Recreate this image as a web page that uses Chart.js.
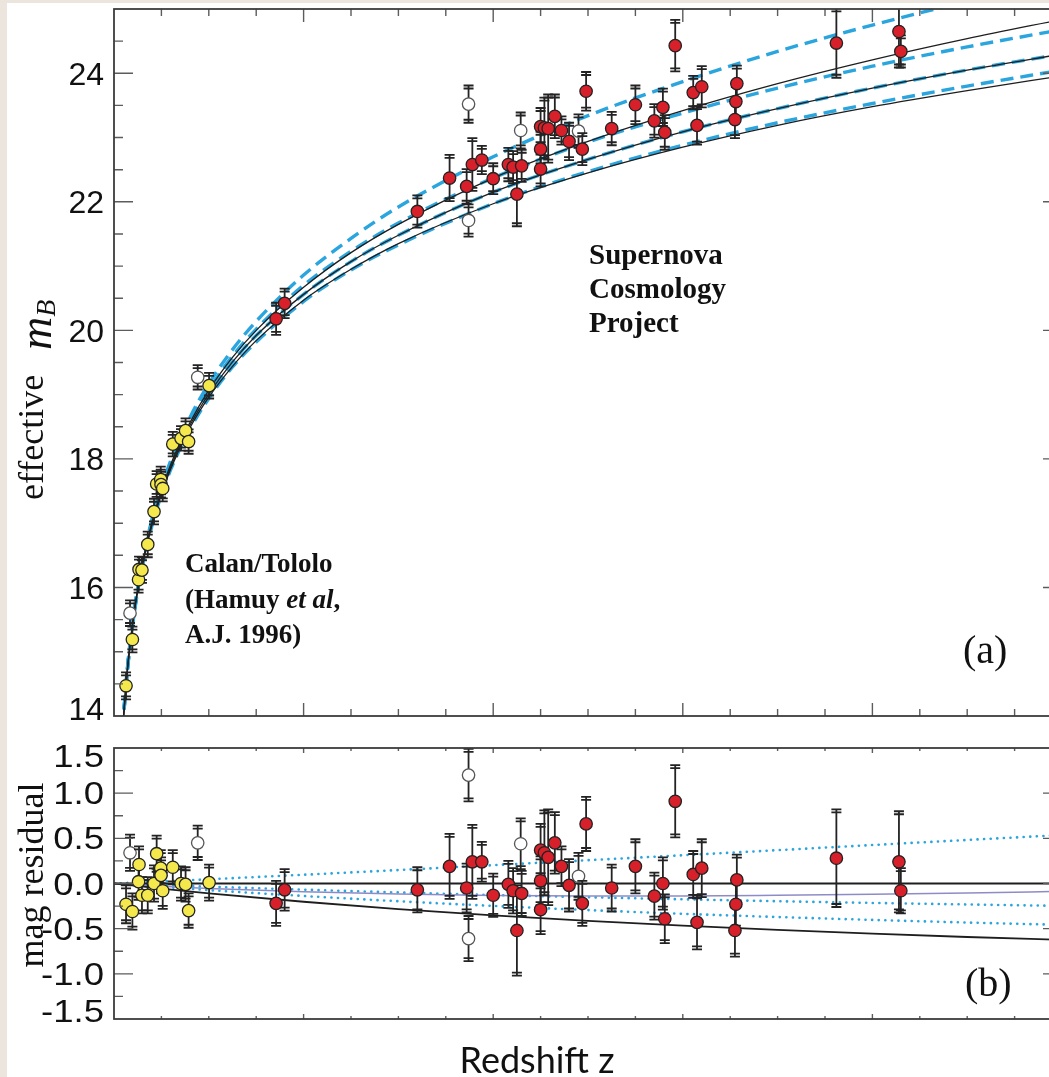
<!DOCTYPE html>
<html>
<head>
<meta charset="utf-8">
<script src="https://cdn.jsdelivr.net/npm/chart.js@4.4.1/dist/chart.umd.min.js"></script>
<style>
  html, body { margin: 0; padding: 0; }
  body { width: 1049px; height: 1077px; overflow: hidden; background: #fff; position: relative; }
  .strip { position: absolute; background: #ebe5de; }
  canvas { position: absolute; left: 0; }
  #magChart { top: 0; }
  #residChart { top: 720px; }
</style>
</head>
<body>
<div class="strip" style="left:0;top:0;width:7px;height:1077px"></div>
<div class="strip" style="left:0;top:0;width:1049px;height:3px"></div>
<canvas id="magChart" width="1080" height="740"></canvas>
<canvas id="residChart" width="1080" height="357"></canvas>
<script>
// Supernova Cosmology Project (filled red)
const scpZ = [0.171, 0.180, 0.320, 0.354, 0.372, 0.378, 0.388, 0.400, 0.416, 0.421, 0.425, 0.430,
  0.450, 0.450, 0.450, 0.454, 0.458, 0.465, 0.472, 0.480, 0.494, 0.498, 0.525, 0.550, 0.570, 0.579,
  0.581, 0.592, 0.611, 0.620, 0.615, 0.657, 0.656, 0.655, 0.762, 0.828, 0.830];
const scpMag = [20.18, 20.42, 21.85, 22.37, 22.24, 22.58, 22.65, 22.36, 22.58, 22.54, 22.12, 22.56,
  23.17, 22.82, 22.51, 23.15, 23.14, 23.33, 23.11, 22.94, 22.82, 23.72, 23.14, 23.51, 23.26, 23.47,
  23.08, 24.43, 23.70, 23.79, 23.19, 23.84, 23.56, 23.28, 24.47, 24.65, 24.34];
const scpResid = [-0.22, -0.07, -0.07, 0.19, -0.05, 0.24, 0.24, -0.13, -0.01, -0.08, -0.52, -0.11,
  0.37, 0.03, -0.29, 0.34, 0.29, 0.45, 0.19, -0.02, -0.22, 0.66, -0.05, 0.19, -0.14, 0.00,
  -0.39, 0.91, 0.10, 0.17, -0.43, 0.04, -0.23, -0.52, 0.28, 0.24, -0.08];
const scpErr = [0.25, 0.23, 0.25, 0.36, 0.27, 0.41, 0.22, 0.24, 0.26, 0.25, 0.50, 0.25,
  0.29, 0.27, 0.27, 0.47, 0.53, 0.34, 0.22, 0.29, 0.25, 0.30, 0.26, 0.30, 0.26, 0.29,
  0.27, 0.40, 0.26, 0.32, 0.30, 0.28, 0.27, 0.29, 0.54, 0.56, 0.25];

// Calan/Tololo (yellow)
const ctZ = [0.0127, 0.0194, 0.0259, 0.0264, 0.0295, 0.0356, 0.0422, 0.0450, 0.0493, 0.0496, 0.0514,
  0.0620, 0.0707, 0.0755, 0.0787, 0.1003];
const ctMag = [14.47, 15.19, 16.12, 16.28, 16.27, 16.67, 17.18, 17.61, 17.68, 17.60, 17.54,
  18.23, 18.32, 18.44, 18.27, 19.14];
const ctResid = [-0.23, -0.31, 0.02, 0.21, -0.13, -0.13, 0.00, 0.33, 0.17, 0.09, -0.08,
  0.18, 0.00, -0.01, -0.30, 0.01];
const ctErr = [0.21, 0.20, 0.20, 0.20, 0.20, 0.20, 0.20, 0.20, 0.20, 0.20, 0.20,
  0.19, 0.19, 0.19, 0.19, 0.20];

// excluded supernovae (open circles)
const openZ = [0.0169, 0.0883, 0.374, 0.374, 0.429, 0.490];
const openMag = [15.60, 19.27, 23.52, 21.71, 23.11, 23.10];
const openResid = [0.34, 0.45, 1.20, -0.61, 0.44, 0.08];
const openErr = [0.20, 0.19, 0.29, 0.25, 0.28, 0.26];

// model curves, panel (a): (Omega_M, Omega_Lambda)
const curveZ = [0.008, 0.01, 0.0125, 0.015, 0.02, 0.025, 0.03, 0.04, 0.05, 0.06, 0.08, 0.1,
  0.125, 0.15, 0.2, 0.25, 0.3, 0.4, 0.5, 0.6, 0.7, 0.8, 0.9, 1.0];
const magFlat01 = [13.49, 13.98, 14.47, 14.87, 15.51, 16.00, 16.41, 17.06, 17.56, 17.98, 18.64, 19.17,
  19.70, 20.14, 20.86, 21.43, 21.92, 22.70, 23.34, 23.87, 24.34, 24.75, 25.12, 25.47];
const magFlat55 = [13.49, 13.97, 14.46, 14.86, 15.49, 15.98, 16.39, 17.02, 17.52, 17.93, 18.58, 19.08,
  19.60, 20.02, 20.70, 21.23, 21.67, 22.37, 22.93, 23.38, 23.77, 24.11, 24.41, 24.68];
const magFlat10 = [13.48, 13.97, 14.45, 14.85, 15.48, 15.96, 16.36, 16.99, 17.48, 17.88, 18.52, 19.01,
  19.51, 19.92, 20.56, 21.07, 21.48, 22.15, 22.66, 23.09, 23.45, 23.77, 24.05, 24.30];
const magFlat15 = [13.47, 13.96, 14.44, 14.84, 15.46, 15.94, 16.34, 16.96, 17.44, 17.84, 18.46, 18.94,
  19.43, 19.82, 20.45, 20.94, 21.33, 21.97, 22.47, 22.88, 23.23, 23.53, 23.80, 24.05];
const magOpen00 = [13.48, 13.97, 14.46, 14.86, 15.49, 15.98, 16.38, 17.01, 17.51, 17.92, 18.56, 19.07,
  19.58, 20.00, 20.67, 21.21, 21.65, 22.37, 22.94, 23.42, 23.84, 24.21, 24.54, 24.84];
const magClosed20 = [13.48, 13.96, 14.44, 14.84, 15.47, 15.95, 16.35, 16.97, 17.45, 17.85, 18.48, 18.96,
  19.44, 19.84, 20.47, 20.95, 21.35, 21.97, 22.45, 22.85, 23.19, 23.48, 23.73, 23.96];

// model curves, panel (b): residuals from the best flat fit
const residZ = [0, 0.05, 0.1, 0.2, 0.3, 0.4, 0.5, 0.6, 0.7, 0.8, 0.9, 1.0];
const residBest = [0, 0, 0, 0, 0, 0, 0, 0, 0, 0, 0, 0];
const residFlat01 = [0, 0.023, 0.047, 0.097, 0.149, 0.203, 0.258, 0.313, 0.369, 0.426, 0.482, 0.537];
const residOpen00 = [0, -0.030, -0.054, -0.092, -0.117, -0.132, -0.138, -0.138, -0.131, -0.120, -0.105, -0.087];
const residFlat55 = [0, -0.018, -0.035, -0.068, -0.099, -0.127, -0.152, -0.175, -0.196, -0.215, -0.232, -0.248];
const residFlat7525 = [0, -0.037, -0.073, -0.138, -0.196, -0.248, -0.294, -0.335, -0.371, -0.403, -0.432, -0.458];
const residFlat10 = [0, -0.056, -0.109, -0.202, -0.283, -0.353, -0.414, -0.467, -0.514, -0.555, -0.592, -0.624];

// axis ticks
const magTicks = [14, 16, 18, 20, 22, 24];
const residTicks = [-1.5, -1.0, -0.5, 0.0, 0.5, 1.0, 1.5];
const zMajorTicks = [0.2, 0.4, 0.6, 0.8];
const zMinorTicks = [0.05, 0.1, 0.15, 0.2, 0.25, 0.3, 0.35, 0.4, 0.45, 0.5, 0.55, 0.6, 0.65, 0.7, 0.75,
  0.8, 0.85, 0.9, 0.95];

const RED = '#d8202a';
const YELLOW = '#f4e84c';
const BLUE = '#2aa5de';
const INK = '#1e1e1e';
const SERIF = '"Liberation Serif", "Times New Roman", serif';

function pts(xs, ys) {
  return xs.map((x, i) => ({ x: x, y: ys[i] }));
}

function markers(label, xs, ys, errs, fill, edge) {
  return {
    label: label, data: pts(xs, ys), errors: errs, showLine: false,
    pointRadius: 6.2, pointBorderWidth: 1.3,
    pointBackgroundColor: fill, pointBorderColor: edge, order: 0
  };
}

function curve(label, xs, ys, color, width, dash, order) {
  return {
    label: label, data: pts(xs, ys), showLine: true, pointRadius: 0,
    borderColor: color, borderWidth: width, borderDash: dash, borderCapStyle: dash.length && dash[0] < 1 ? 'round' : 'butt',
    cubicInterpolationMode: 'monotone', clip: 0, order: order
  };
}

// vertical error bars with double caps, drawn just under each marker set
const errorBars = {
  id: 'errorBars',
  beforeDatasetDraw(chart, args) {
    const ds = chart.data.datasets[args.index];
    if (!ds.errors) return;
    const { ctx, chartArea: a, scales: { x, y } } = chart;
    ctx.save();
    ctx.beginPath();
    ctx.rect(a.left, a.top, a.right - a.left, a.bottom - a.top);
    ctx.clip();
    ctx.strokeStyle = '#232323';
    ctx.lineWidth = 1.8;
    ds.data.forEach((p, i) => {
      const px = x.getPixelForValue(p.x);
      const hi = y.getPixelForValue(p.y + ds.errors[i]);
      const lo = y.getPixelForValue(p.y - ds.errors[i]);
      ctx.beginPath();
      ctx.moveTo(px, hi);
      ctx.lineTo(px, lo);
      [hi, hi + 3, lo, lo - 3].forEach(cy => {
        ctx.moveTo(px - 5, cy);
        ctx.lineTo(px + 5, cy);
      });
      ctx.stroke();
    });
    ctx.restore();
  }
};

// box frame, inward ticks and tick labels
function makeFrame(cfg) {
  return {
    id: 'frame',
    afterDraw(chart) {
      const { ctx, chartArea: a, scales: { x, y } } = chart;
      const near = (list, v) => list.some(t => Math.abs(t - v) < 1e-6);
      ctx.save();
      ctx.strokeStyle = '#5c5c5c';
      ctx.lineWidth = 1.4;
      ctx.beginPath();
      for (let v = y.min + cfg.yStep; v < y.max - 1e-6; v += cfg.yStep) {
        const py = y.getPixelForValue(v);
        const len = near(cfg.yTicks, v) ? cfg.yLen[0] : cfg.yLen[1];
        ctx.moveTo(a.left, py); ctx.lineTo(a.left + len, py);
        ctx.moveTo(a.right, py); ctx.lineTo(a.right - len, py);
      }
      zMinorTicks.forEach(v => {
        const px = x.getPixelForValue(v);
        const len = near(zMajorTicks, v) ? cfg.xLen[0] : cfg.xLen[1];
        ctx.moveTo(px, a.top); ctx.lineTo(px, a.top + len);
        ctx.moveTo(px, a.bottom); ctx.lineTo(px, a.bottom - len);
      });
      ctx.stroke();
      ctx.strokeStyle = '#3c3c3c';
      ctx.lineWidth = 1.8;
      ctx.strokeRect(a.left, a.top, a.right - a.left, a.bottom - a.top);

      ctx.fillStyle = '#111';
      ctx.font = cfg.font;
      ctx.textAlign = 'right';
      ctx.textBaseline = 'alphabetic';
      cfg.yTicks.forEach(v => {
        const cy = Math.min(Math.max(y.getPixelForValue(v), a.top + 8), a.bottom - 8);
        ctx.save();
        ctx.translate(a.left - 10, cy + cfg.capHalf);
        ctx.scale(cfg.sx, 1);
        ctx.fillText(v.toFixed(cfg.decimals), 0, 0);
        ctx.restore();
      });
      ctx.restore();
    }
  };
}

function drawRuns(ctx, x, y, runs) {
  ctx.textAlign = 'left';
  runs.forEach(r => {
    ctx.font = r[1];
    ctx.fillText(r[0], x, y);
    x += ctx.measureText(r[0]).width;
  });
}

const magNotes = {
  id: 'notes',
  afterDraw(chart) {
    const ctx = chart.ctx;
    const bold = 'bold 29px ' + SERIF;
    const bold2 = 'bold 27px ' + SERIF;
    ctx.save();
    ctx.fillStyle = '#111';
    ctx.textBaseline = 'alphabetic';
    drawRuns(ctx, 589, 264, [['Supernova', bold]]);
    drawRuns(ctx, 589, 298, [['Cosmology', bold]]);
    drawRuns(ctx, 589, 332, [['Project', bold]]);
    drawRuns(ctx, 185, 572, [['Calan/Tololo', bold2]]);
    drawRuns(ctx, 185, 608, [['(Hamuy ', bold2], ['et al', 'italic ' + bold2], [',', bold2]]);
    drawRuns(ctx, 185, 643, [['A.J. 1996)', bold2]]);
    drawRuns(ctx, 963, 663, [['(a)', '40px ' + SERIF]]);
    // y axis title
    ctx.translate(43, 500);
    ctx.rotate(-Math.PI / 2);
    drawRuns(ctx, 0, 0, [['effective', '36px ' + SERIF]]);
    ctx.font = 'italic 46px ' + SERIF;
    ctx.fillText('m', 150, 8);
    const mw = ctx.measureText('m').width;
    ctx.font = 'italic 28px ' + SERIF;
    ctx.fillText('B', 150 + mw, 12);
    ctx.restore();
  }
};

const residNotes = {
  id: 'notes',
  afterDraw(chart) {
    const ctx = chart.ctx;
    ctx.save();
    ctx.fillStyle = '#111';
    ctx.textBaseline = 'alphabetic';
    drawRuns(ctx, 965, 276, [['(b)', '40px ' + SERIF]]);
    ctx.textAlign = 'center';
    ctx.font = '36px Lato, "Open Sans", sans-serif';
    ctx.fillText('Redshift z', 537, 353);
    ctx.translate(43, 155);
    ctx.rotate(-Math.PI / 2);
    ctx.font = '36px ' + SERIF;
    ctx.fillText('mag residual', 0, 0);
    ctx.restore();
  }
};

const baseOptions = (pad, yMin, yMax) => ({
  responsive: false,
  animation: false,
  events: [],
  layout: { padding: pad, autoPadding: false },
  scales: {
    x: { type: 'linear', min: 0, max: 1, display: false },
    y: { type: 'linear', min: yMin, max: yMax, display: false }
  },
  plugins: { legend: { display: false }, tooltip: { enabled: false } }
});

new Chart(document.getElementById('magChart'), {
  type: 'scatter',
  data: {
    datasets: [
      markers('Calan/Tololo', ctZ, ctMag, ctErr, YELLOW, '#222'),
      markers('Supernova Cosmology Project', scpZ, scpMag, scpErr, RED, '#222'),
      markers('excluded', openZ, openMag, openErr, '#fff', '#555'),
      curve('(0,0)', curveZ, magOpen00, INK, 1.3, [], 2),
      curve('(1,0)', curveZ, magFlat10, INK, 1.3, [], 2),
      curve('(2,0)', curveZ, magClosed20, INK, 1.3, [], 2),
      curve('(0,1)', curveZ, magFlat01, BLUE, 3.4, [13, 7], 3),
      curve('(0.5,0.5)', curveZ, magFlat55, BLUE, 3.4, [13, 7], 3),
      curve('(1,0) flat', curveZ, magFlat10, BLUE, 3.4, [13, 7], 3),
      curve('(1.5,-0.5)', curveZ, magFlat15, BLUE, 3.4, [13, 7], 3)
    ]
  },
  options: baseOptions({ left: 114, right: 18, top: 9, bottom: 24 }, 14, 25),
  plugins: [errorBars, makeFrame({
    yTicks: magTicks, yStep: 0.5, yLen: [19, 9], xLen: [13, 7], decimals: 0,
    font: '32px "Liberation Sans", Arial, sans-serif', sx: 1, capHalf: 11.5
  }), magNotes]
});

new Chart(document.getElementById('residChart'), {
  type: 'scatter',
  data: {
    datasets: [
      markers('Calan/Tololo', ctZ, ctResid, ctErr, YELLOW, '#222'),
      markers('Supernova Cosmology Project', scpZ, scpResid, scpErr, RED, '#222'),
      markers('excluded', openZ, openResid, openErr, '#fff', '#555'),
      curve('(0.28,0.72)', residZ, residBest, INK, 2, [], 1),
      curve('(1,0)', residZ, residFlat10, INK, 1.8, [], 1),
      curve('(0,0)', residZ, residOpen00, '#8e8cc8', 1.5, [], 2),
      curve('(0,1)', residZ, residFlat01, BLUE, 2.6, [0.1, 6.5], 3),
      curve('(0.5,0.5)', residZ, residFlat55, BLUE, 2.6, [0.1, 6.5], 3),
      curve('(0.75,0.25)', residZ, residFlat7525, BLUE, 2.6, [0.1, 6.5], 3)
    ]
  },
  options: baseOptions({ left: 114, right: 18, top: 28, bottom: 58 }, -1.5, 1.5),
  plugins: [errorBars, makeFrame({
    yTicks: residTicks, yStep: 0.25, yLen: [19, 9], xLen: [5, 3], decimals: 1,
    font: '31px "Liberation Sans", Arial, sans-serif', sx: 1.18, capHalf: 11.1
  }), residNotes]
});
</script>
</body>
</html>
